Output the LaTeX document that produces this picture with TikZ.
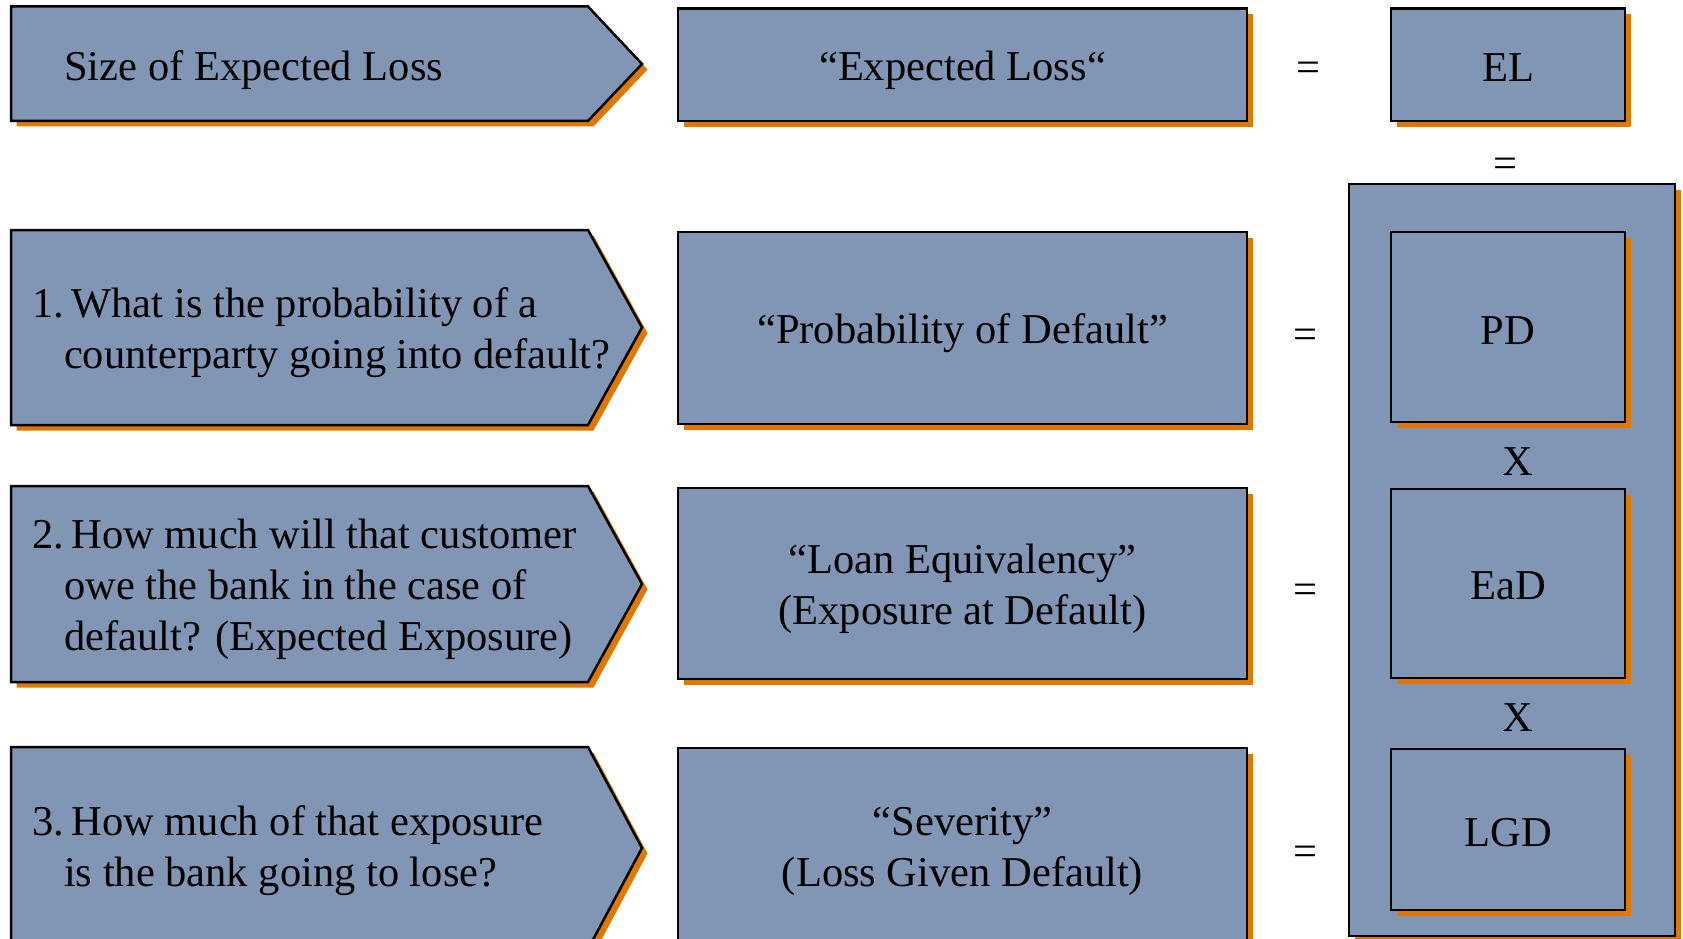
\documentclass[tikz,border=0pt]{standalone}
\usepackage{fontspec}
\setmainfont{Liberation Serif}
\usetikzlibrary{shadows}
\definecolor{panel}{RGB}{128,150,180}
\definecolor{glow}{RGB}{224,120,0}
\tikzset{
  orangeshadow/.style={drop shadow={shadow xshift=5.5pt,shadow yshift=-5.5pt,fill=glow,opacity=1}},
  plate/.style={draw=black, line width=2.5pt, fill=panel, orangeshadow},
  card/.style={plate, rectangle, inner sep=0pt},
  big/.style={font=\fontsize{42.5}{51}\selectfont},
  label/.style={big, align=center, inner sep=0pt},
  question/.style={big, anchor=west, align=left, inner sep=0pt},
  midcol/.style={card, minimum width=569pt},
  rightcol/.style={card, minimum width=234pt},
}
\newcommand{\numgap}{\hspace{7.5pt}}
\begin{document}
\begin{tikzpicture}[x=1pt,y=-1pt]
\useasboundingbox (0,0) rectangle (1683,939);
\clip (0,0) rectangle (1683,939);

% question arrows on the left
\draw[plate] (11,6.5) -- (588,6.5) -- (642,64) -- (588,121) -- (11,121) -- cycle;
\draw[plate] (11,230) -- (588,230) -- (642,327.5) -- (588,425) -- (11,425) -- cycle;
\draw[plate] (11,486) -- (588,486) -- (642,584) -- (588,682) -- (11,682) -- cycle;
\draw[plate] (11,747) -- (588,747) -- (642,848) -- (588,949) -- (11,949) -- cycle;

\node[question] (q0) at (64,70.5) {Size of Expected Loss};
\node[question] (q1) at (32,333) {1.\numgap What is the probability of a\\\phantom{1.}counterparty going into default?};
\node[question] (q2) at (32,589.5) {2.\numgap How much will that customer\\\phantom{2.}owe the bank in the case of\\\phantom{2.}default? (Expected Exposure)};
\node[question] (q3) at (32,850.5) {3.\numgap How much of that exposure\\\phantom{3.}is the bank going to lose?};

% names of the quantities
\node[midcol, minimum height=112.5pt] (n0) at (962.5,64.8) {};
\node[midcol, minimum height=192pt] (n1) at (962.5,328) {};
\node[midcol, minimum height=191pt] (n2) at (962.5,583.5) {};
\node[midcol, minimum height=196pt] (n3) at (962.5,846) {};
\node[label] (t0) at (962.5,70.3) {“Expected Loss“};
\node[label] (t1) at (962.5,333.5) {“Probability of Default”};
\node[label] (t2) at (962.5,589) {“Loan Equivalency”\\(Exposure at Default)};
\node[label] (t3) at (962.5,851) {“Severity”\\(Loss Given Default)};

% equals signs
\node[big] (e0) at (1308,71.5) {=};
\node[big] (e1) at (1305,338.5) {=};
\node[big] (e2) at (1305,593.5) {=};
\node[big] (e3) at (1305,855.5) {=};
\node[big] (e4) at (1505,168) {=};

% abbreviations and the product frame
\node[rightcol, minimum height=112.5pt] (el) at (1508,64.8) {};
\node[plate, rectangle, minimum width=326pt, minimum height=752pt] (frame) at (1512,560) {};
\node[rightcol, minimum height=190pt] (pd) at (1508,327) {};
\node[rightcol, minimum height=189pt] (ead) at (1508,583.5) {};
\node[rightcol, minimum height=161pt] (lgd) at (1508,829.5) {};
\node[label] (tel) at (1508,67.5) {EL};
\node[label] (tpd) at (1508,331) {PD};
\node[label] (tead) at (1508,586) {EaD};
\node[label] (tlgd) at (1508,832.5) {LGD};
\node[big] (x1) at (1518,462) {X};
\node[big] (x2) at (1518,717.5) {X};
\end{tikzpicture}
\end{document}
